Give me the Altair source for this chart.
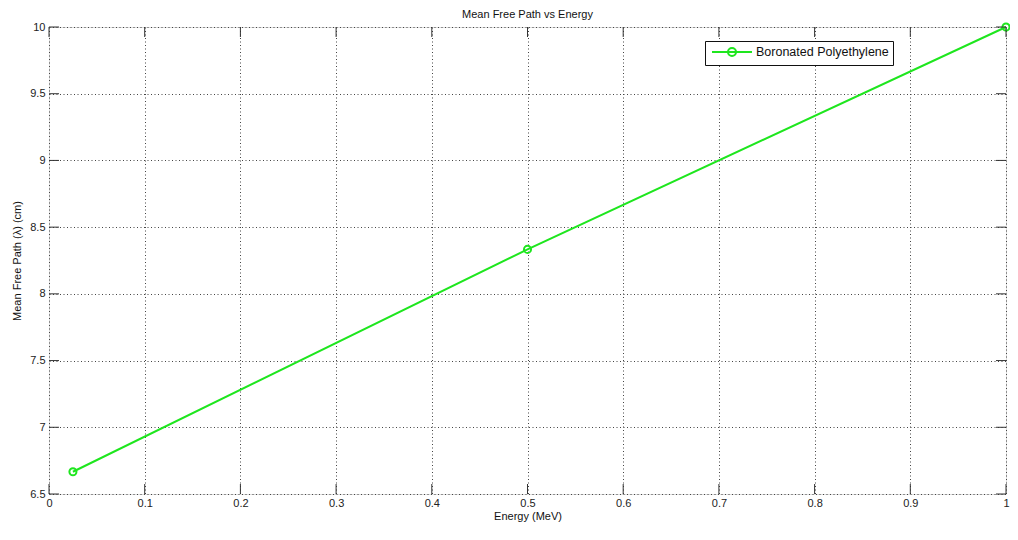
import altair as alt
import pandas as pd

# ---- data ----
energy = [0.025, 0.5, 1.0]
mfp = [6.6667, 8.3333, 10.0]
series_name = "Boronated Polyethylene"
x_ticks = [0, 0.1, 0.2, 0.3, 0.4, 0.5, 0.6, 0.7, 0.8, 0.9, 1.0]
y_ticks = [6.5, 7, 7.5, 8, 8.5, 9, 9.5, 10]

W, H = 957, 467
FONT = "Liberation Sans"
GREEN = "#1ee61e"
FRAME = "#333333"

df = pd.DataFrame({"Energy": energy, "MFP": mfp, "Series": [series_name] * len(energy)})
xt = pd.DataFrame({"v": x_ticks})
yt = pd.DataFrame({"v": y_ticks})

xs = alt.Scale(domain=[0, 1], nice=False, zero=False)
ys = alt.Scale(domain=[6.5, 10], nice=False, zero=False)

xaxis = alt.Axis(
    values=x_ticks, format="~g", title="Energy (MeV)",
    grid=True, gridDash=[1, 2.5], gridColor="#444444", gridWidth=1,
    ticks=False, domain=False, labelPadding=3, labelFlush=False,
    labelFont=FONT, labelFontSize=11, labelColor="#222222",
    titleFont=FONT, titleFontSize=11, titleFontWeight="normal", titleColor="#111111",
    titlePadding=2,
)
yaxis = alt.Axis(
    values=y_ticks, format="~g", title="Mean Free Path (λ) (cm)",
    grid=True, gridDash=[1, 2.5], gridColor="#444444", gridWidth=1,
    ticks=False, domain=False, labelPadding=4, labelFlush=False,
    labelFont=FONT, labelFontSize=11, labelColor="#222222",
    titleFont=FONT, titleFontSize=11, titleFontWeight="normal", titleColor="#111111",
    titlePadding=7,
)

legend_path = "M-3.33,0L3.33,0M0.67,0A0.67,0.67,0,1,1,-0.67,0A0.67,0.67,0,1,1,0.67,0"

line = alt.Chart(df).mark_line(
    strokeWidth=2,
    point=alt.OverlayMarkDef(filled=False, fill="transparent", size=50, strokeWidth=2, color=GREEN),
).encode(
    x=alt.X("Energy:Q", scale=xs, axis=xaxis),
    y=alt.Y("MFP:Q", scale=ys, axis=yaxis),
    color=alt.Color(
        "Series:N",
        scale=alt.Scale(range=[GREEN]),
        legend=alt.Legend(
            orient="none", legendX=656, legendY=14, title=None,
            symbolType=legend_path, symbolSize=144, symbolStrokeWidth=2,
            symbolStrokeColor=GREEN, symbolFillColor="transparent",
            symbolOffset=16, labelOffset=17, padding=4,
            labelExpr="datum.label + '\u00a0'",
            strokeColor="#111111", fillColor="white",
            labelFont=FONT, labelFontSize=12.5, labelColor="#111111",
        ),
    ),
)

tick_style = dict(color=FRAME, strokeWidth=1)
bottom_ticks = alt.Chart(xt).mark_rule(**tick_style).encode(
    x=alt.X("v:Q", scale=xs, axis=xaxis), y=alt.value(H), y2=alt.value(H - 10))
top_ticks = alt.Chart(xt).mark_rule(**tick_style).encode(
    x=alt.X("v:Q", scale=xs, axis=xaxis), y=alt.value(0), y2=alt.value(10))
left_ticks = alt.Chart(yt).mark_rule(**tick_style).encode(
    y=alt.Y("v:Q", scale=ys, axis=yaxis), x=alt.value(0), x2=alt.value(10))
right_ticks = alt.Chart(yt).mark_rule(**tick_style).encode(
    y=alt.Y("v:Q", scale=ys, axis=yaxis), x=alt.value(W), x2=alt.value(W - 10))

chart = alt.layer(line, bottom_ticks, top_ticks, left_ticks, right_ticks).properties(
    width=W, height=H,
    title=alt.TitleParams("Mean Free Path vs Energy", font=FONT, fontSize=11,
                          fontWeight="normal", color="#111111", anchor="middle",
                          offset=-1),
    autosize=alt.AutoSizeParams(type="none"),
    padding={"left": 41, "top": 19, "right": 4, "bottom": 28},
).configure_view(stroke=FRAME, strokeWidth=1).configure(background="white")

chart.save("out.html", embed_options={"renderer": "svg", "actions": False})
